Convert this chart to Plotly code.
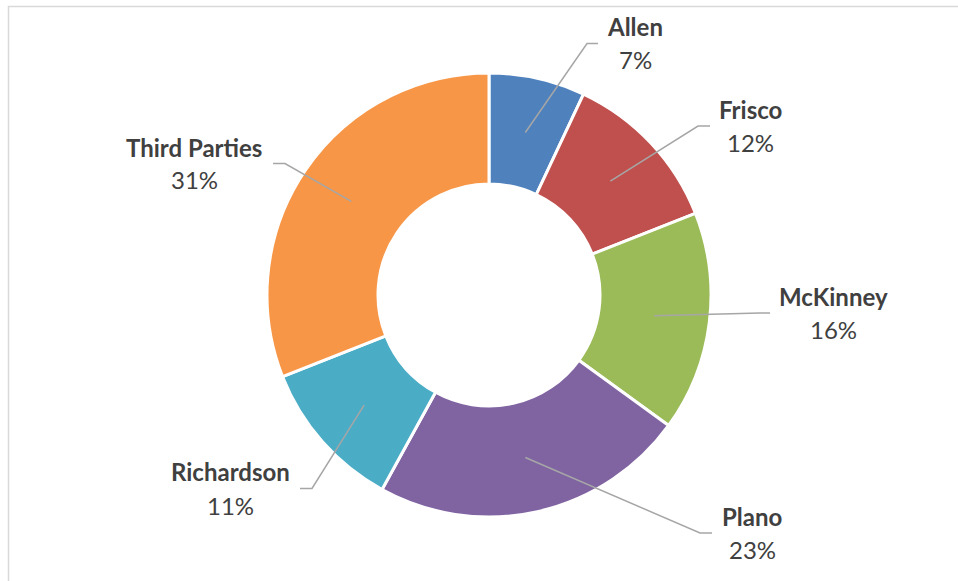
import math
import plotly.graph_objects as go

# Share of total by source
labels = ["Allen", "Frisco", "McKinney", "Plano", "Richardson", "Third Parties"]
values = [7, 12, 16, 23, 11, 31]
colors = ["#4F81BD", "#C0504D", "#9BBB59", "#8064A2", "#4BACC6", "#F79646"]

W, H = 958, 581
CX, CY = 489, 295          # donut centre (px)
R_OUT = 222                # outer radius (px)
HOLE = 0.5
R_MID = R_OUT * (1 + HOLE) / 2

# Label block placement (px): text centre x, name y, percent y, elbow x, line end x
label_layout = {
    "Allen":         (635, 27, 59, 587, 598),
    "Frisco":        (750, 109, 142, 698, 710),
    "McKinney":      (833, 296, 329, 760, 770),
    "Plano":         (752, 516, 549, 700, 712),
    "Richardson":    (230, 471, 505, 312, 300),
    "Third Parties": (194, 147, 179, 285, 273),
}

TEXT_COLOR = "#404040"
LINE_COLOR = "#A6A6A6"
FONT = "Lato"
FONT_SIZE = 24


def px(x):
    return x / W


def py(y):
    return 1 - y / H


fig = go.Figure(
    go.Pie(
        labels=labels,
        values=values,
        hole=HOLE,
        sort=False,
        direction="clockwise",
        rotation=0,
        marker=dict(colors=colors, line=dict(color="white", width=3)),
        textinfo="none",
        hoverinfo="label+percent",
        showlegend=False,
        domain=dict(
            x=[px(CX - R_OUT), px(CX + R_OUT)],
            y=[py(CY + R_OUT), py(CY - R_OUT)],
        ),
    )
)

total = sum(values)
shapes = []
annotations = []
cum = 0
for name, v in zip(labels, values):
    frac = (cum + v / 2) / total
    cum += v
    ang = 2 * math.pi * frac
    x0 = CX + R_MID * math.sin(ang)
    y0 = CY - R_MID * math.cos(ang)
    tx, ny, pyy, ex, endx = label_layout[name]
    ly = (ny + pyy) / 2 + 0.5
    path = f"M {px(x0)},{py(y0)} L {px(ex)},{py(ly)} L {px(endx)},{py(ly)}"
    shapes.append(dict(type="path", xref="paper", yref="paper", path=path,
                       line=dict(color=LINE_COLOR, width=1.5), layer="above"))
    pct = round(100 * v / total)
    annotations.append(dict(x=px(tx), y=py(ny), xref="paper", yref="paper",
                            text=f"<b>{name}</b>", showarrow=False,
                            xanchor="center", yanchor="middle",
                            font=dict(family=FONT, size=FONT_SIZE, color=TEXT_COLOR)))
    annotations.append(dict(x=px(tx), y=py(pyy), xref="paper", yref="paper",
                            text=f"{pct}%", showarrow=False,
                            xanchor="center", yanchor="middle",
                            font=dict(family=FONT, size=FONT_SIZE, color=TEXT_COLOR)))

# Chart frame edges (top and left)
shapes.append(dict(type="path", xref="paper", yref="paper",
                   path=f"M {px(8.5)},{py(H + 2)} L {px(8.5)},{py(6.5)} L {px(W + 2)},{py(6.5)}",
                   line=dict(color="#D9D9D9", width=1.5), layer="above"))

fig.update_layout(
    width=W, height=H,
    margin=dict(l=0, r=0, t=0, b=0),
    paper_bgcolor="white",
    plot_bgcolor="white",
    shapes=shapes,
    annotations=annotations,
    font=dict(family=FONT, color=TEXT_COLOR),
)

fig.write_html("out.html")
